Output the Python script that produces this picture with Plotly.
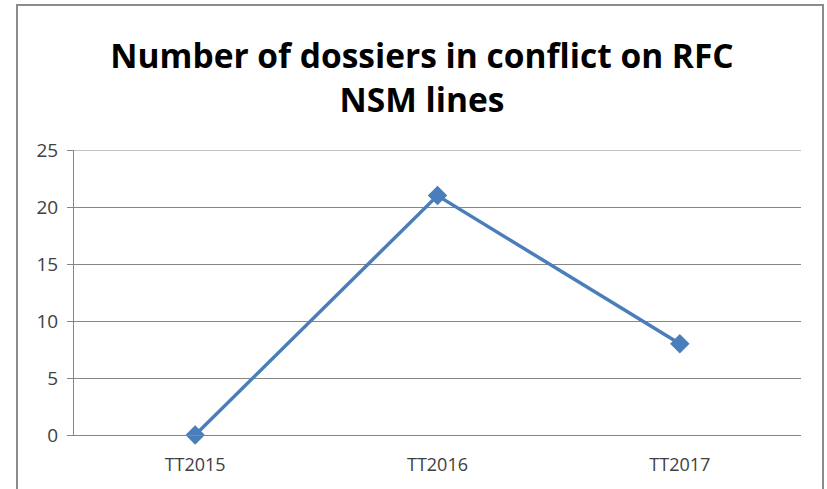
import plotly.graph_objects as go

categories = ["TT2015", "TT2016", "TT2017"]
values = [0, 21, 8]
y_ticks = [0, 5, 10, 15, 20, 25]
title_text = "Number of dossiers in conflict on RFC<br>NSM lines"

fig = go.Figure()
fig.add_trace(go.Scatter(
    x=categories, y=values, mode="lines+markers",
    line=dict(color="#4a7ebb", width=3.5),
    marker=dict(symbol="diamond", size=15, color="#4a7ebb"),
    showlegend=False, hoverinfo="x+y", cliponaxis=False,
))

L, R, T, B = 74, 26, 150, 54
W, H = 827, 489
pw, ph = W - L - R, H - T - B

def px_x(x):
    return (x - L) / pw

def px_y(y):
    return (H - B - y) / ph

fig.update_layout(
    width=W, height=H,
    margin=dict(l=L, r=R, t=T, b=B),
    paper_bgcolor="white", plot_bgcolor="white",
    title=dict(
        text=title_text, x=(422 - L) / pw, xanchor="center", xref="paper",
        y=1 - 68 / H, yanchor="middle",
        font=dict(family="Open Sans, sans-serif", size=33.5, color="black", weight="bold"),
    ),
    xaxis=dict(
        type="category", range=[-0.5, 2.5],
        showline=True, linecolor="#868686", linewidth=1,
        showgrid=False, ticks="", zeroline=False,
        tickfont=dict(family="Open Sans, sans-serif", size=18, color="#404040"),
        ticklabelstandoff=13,
        fixedrange=True,
    ),
    yaxis=dict(
        range=[0, 25], tickvals=y_ticks,
        showline=True, linecolor="#868686", linewidth=1,
        showgrid=True, gridcolor="#868686", gridwidth=1,
        ticks="outside", ticklen=6, tickcolor="#868686",
        zeroline=False, ticklabelstandoff=5,
        tickfont=dict(family="Open Sans, sans-serif", size=19, color="#404040"),
        fixedrange=True,
    ),
    shapes=[
        dict(
            type="rect", xref="paper", yref="paper",
            x0=px_x(17), x1=px_x(823), y0=px_y(500), y1=px_y(5),
            line=dict(color="#8c8c8c", width=2), layer="below",
        ),
        dict(
            type="line", xref="paper", yref="y",
            x0=0, x1=1, y0=y_ticks[-1], y1=y_ticks[-1],
            line=dict(color="#868686", width=1), layer="below",
        ),
    ],
)

fig.write_html("out.html", config={"displayModeBar": False},
               post_script="document.body.style.margin='0';")
